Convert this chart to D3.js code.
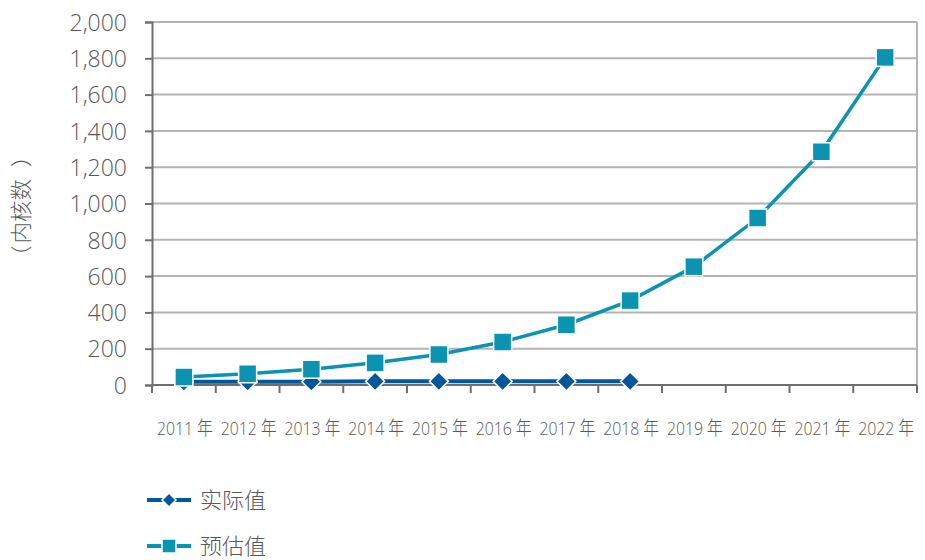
<!DOCTYPE html>
<html>
<head>
<meta charset="utf-8">
<script src="https://cdn.jsdelivr.net/npm/d3@7"></script>
<style>
  html, body { margin: 0; padding: 0; background: #fff; }
  svg { display: block; }
  text { fill: #595959; }
</style>
</head>
<body>
<svg id="chart" width="925" height="560"></svg>
<script>
// Year categories on the x axis
const years = ["2011", "2012", "2013", "2014", "2015", "2016", "2017", "2018", "2019", "2020", "2021", "2022"];
const yearSuffix = " 年";
// Measured core counts (2011–2018)
const actualValues = [18, 18, 18, 20, 20, 20, 20, 20];
// Projected core counts (2011–2022)
const forecastValues = [44, 62, 87, 122, 168, 237, 332, 465, 652, 920, 1285, 1805];
// Y axis ticks
const yTicks = [0, 200, 400, 600, 800, 1000, 1200, 1400, 1600, 1800, 2000];
const seriesNames = ["实际值", "预估值"];
const yTitleParts = ["（", "内核数", "）"];

const colActual = "#00589a";
const colForecast = "#0b93b2";
const gridCol = "#b4b4b4";
const axisCol = "#6e6e6e";
const latin = "'Open Sans', 'Noto Sans', sans-serif";
const cjk = "'Open Sans', 'Noto Sans CJK SC', sans-serif";

const svg = d3.select("#chart");
const plotL = 152, plotR = 917, plotT = 22, plotB = 385;

const x = d3.scaleBand().domain(years).range([plotL, plotR]);
const y = d3.scaleLinear().domain([0, 2000]).range([plotB, plotT]);

// horizontal gridlines
svg.append("g").selectAll("line").data(yTicks.filter(d => d > 0)).join("line")
  .attr("x1", plotL).attr("x2", plotR)
  .attr("y1", d => y(d)).attr("y2", d => y(d))
  .attr("stroke", gridCol).attr("stroke-width", 2);

// plot border on the right
svg.append("line").attr("x1", plotR).attr("x2", plotR).attr("y1", plotT).attr("y2", plotB)
  .attr("stroke", gridCol).attr("stroke-width", 2);

// y axis
const yAxis = d3.axisLeft(y).tickValues(yTicks).tickSize(7).tickPadding(18)
  .tickFormat(d3.format(","));
const gy = svg.append("g").attr("transform", `translate(${plotL},0)`).call(yAxis);
gy.select(".domain").attr("stroke", axisCol).attr("stroke-width", 2);
gy.selectAll(".tick line").attr("stroke", axisCol).attr("stroke-width", 2);
gy.selectAll(".tick text").attr("font-family", latin).attr("font-weight", 300)
  .attr("font-size", 23).attr("fill", "#595959").attr("dy", "0.36em");

// x axis: ticks on category boundaries
svg.append("line").attr("x1", plotL).attr("x2", plotR).attr("y1", plotB).attr("y2", plotB)
  .attr("stroke", axisCol).attr("stroke-width", 2);
const boundaries = years.map(d => x(d)).concat([plotR]);
svg.append("g").selectAll("line").data(boundaries).join("line")
  .attr("x1", d => d).attr("x2", d => d).attr("y1", plotB).attr("y2", plotB + 8)
  .attr("stroke", axisCol).attr("stroke-width", 2);

svg.append("g").selectAll("text").data(years).join("text")
  .attr("x", d => x(d) + x.bandwidth() / 2 + 1)
  .attr("y", 435)
  .attr("text-anchor", "middle")
  .attr("font-family", cjk).attr("font-weight", 300).attr("font-size", 19)
  .attr("textLength", 56).attr("lengthAdjust", "spacingAndGlyphs")
  .text(d => d + yearSuffix);

// y axis title, read bottom to top
const title = svg.append("text")
  .attr("transform", "translate(29,267) rotate(-90)")
  .attr("text-anchor", "start")
  .attr("font-family", "'Noto Sans CJK SC', sans-serif").attr("font-weight", 300)
  .attr("font-size", 21.5);
title.append("tspan").text(yTitleParts[0]);
title.append("tspan").attr("dx", 2).text(yTitleParts[1]);
title.append("tspan").attr("dx", 12).text(yTitleParts[2]);

const cx = d => x(d) + x.bandwidth() / 2;
const line = d3.line().x(d => cx(d.year)).y(d => y(d.value));

const actual = actualValues.map((v, i) => ({ year: years[i], value: v }));
const forecast = forecastValues.map((v, i) => ({ year: years[i], value: v }));

const diamond = (s) => `M0,${-s}L${s},0L0,${s}L${-s},0Z`;

// actual series
svg.append("path").datum(actual).attr("d", line)
  .attr("fill", "none").attr("stroke", colActual).attr("stroke-width", 4);
svg.append("g").selectAll("path").data(actual).join("path")
  .attr("transform", d => `translate(${cx(d.year)},${y(d.value)})`)
  .attr("d", diamond(9.5))
  .attr("fill", colActual).attr("stroke", "#fff").attr("stroke-width", 1.5);

// forecast series
svg.append("path").datum(forecast).attr("d", line)
  .attr("fill", "none").attr("stroke", colForecast).attr("stroke-width", 3.5);
svg.append("g").selectAll("rect").data(forecast).join("rect")
  .attr("x", d => cx(d.year) - 9).attr("y", d => y(d.value) - 9)
  .attr("width", 18).attr("height", 18)
  .attr("fill", colForecast).attr("stroke", "#fff").attr("stroke-width", 1.5);

// legend
const legend = svg.append("g");
const rows = [
  { name: seriesNames[0], color: colActual, y: 500, shape: "diamond" },
  { name: seriesNames[1], color: colForecast, y: 546, shape: "square" }
];
rows.forEach(r => {
  legend.append("line").attr("x1", 147).attr("x2", 191).attr("y1", r.y).attr("y2", r.y)
    .attr("stroke", r.color).attr("stroke-width", 4);
  if (r.shape === "diamond") {
    legend.append("path").attr("transform", `translate(169,${r.y})`).attr("d", diamond(7))
      .attr("fill", r.color).attr("stroke", "#fff").attr("stroke-width", 1.5);
  } else {
    legend.append("rect").attr("x", 162).attr("y", r.y - 7).attr("width", 14).attr("height", 14)
      .attr("fill", r.color).attr("stroke", "#fff").attr("stroke-width", 1.5);
  }
  legend.append("text").attr("x", 200).attr("y", r.y).attr("dy", "0.35em")
    .attr("font-family", "'Noto Sans CJK SC', sans-serif").attr("font-weight", 300)
    .attr("font-size", 22).text(r.name);
});
</script>
</body>
</html>
